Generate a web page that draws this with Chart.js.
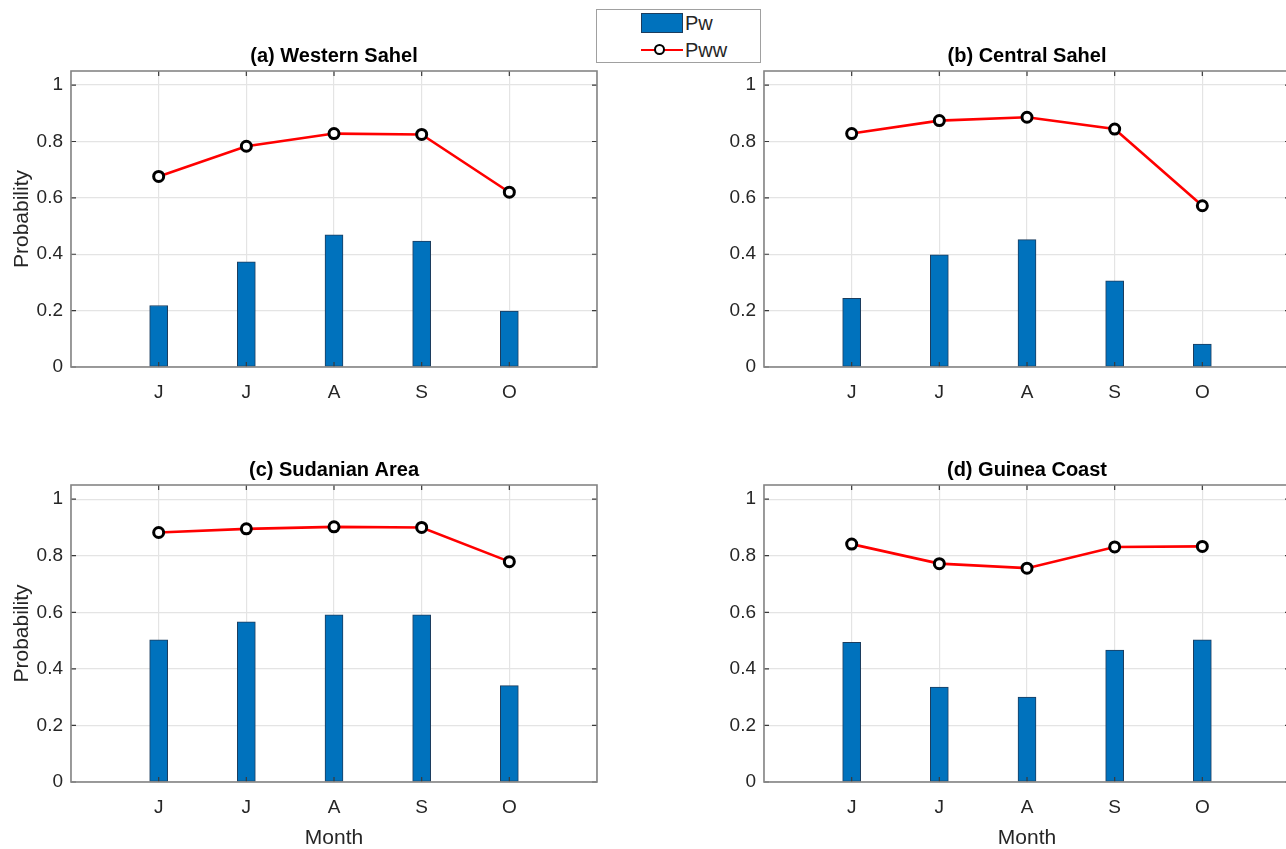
<!DOCTYPE html>
<html>
<head>
<meta charset="utf-8">
<title>Wet-day probabilities over West Africa</title>
<script src="https://cdn.jsdelivr.net/npm/chart.js@4.4.1/dist/chart.umd.min.js"></script>
<style>
  html, body { margin: 0; padding: 0; background: #ffffff; }
  body { width: 1286px; height: 849px; overflow: hidden; position: relative; font-family: "Liberation Sans", Arial, sans-serif; }
  canvas.panel { position: absolute; }
  #legend {
    position: absolute; left: 596px; top: 9px; width: 165px; height: 54px;
    border: 1px solid #a0a0a0; background: #ffffff; box-sizing: border-box;
  }
  #legend .row { position: absolute; left: 44px; height: 22px; display: flex; align-items: center; }
  #legend .swatch-bar { width: 42px; height: 20px; background: #0072BD; border: 1px solid #1c3d5e; box-sizing: border-box; }
  #legend .swatch-line { position: relative; width: 42px; height: 20px; }
  #legend .swatch-line .ln { position: absolute; left: 0; right: 0; top: 9px; height: 2.4px; background: #ff0000; }
  #legend .swatch-line .mk { position: absolute; left: 13px; top: 3.5px; width: 7px; height: 7px; border: 2.8px solid #000; border-radius: 50%; background: #fff; }
  #legend .lbl { margin-left: 2px; font-size: 20px; color: #262626; line-height: 22px; }
</style>
</head>
<body>
<canvas id="panelA" class="panel"></canvas>
<canvas id="panelB" class="panel"></canvas>
<canvas id="panelC" class="panel"></canvas>
<canvas id="panelD" class="panel"></canvas>
<div id="legend">
  <div class="row" style="top:2px"><div class="swatch-bar"></div><span class="lbl">Pw</span></div>
  <div class="row" style="top:29px"><div class="swatch-line"><div class="ln"></div><div class="mk"></div></div><span class="lbl">Pww</span></div>
</div>
<script>
// Rainy-season months (June to October)
const months = ['J', 'J', 'A', 'S', 'O'];
const yTickValues = [0, 0.2, 0.4, 0.6, 0.8, 1];

// Pw: probability of a wet day; Pww: probability of a wet day following a wet day
const pwWesternSahel   = [0.218, 0.373, 0.469, 0.447, 0.198];
const pwwWesternSahel  = [0.676, 0.783, 0.828, 0.825, 0.620];
const pwCentralSahel   = [0.244, 0.398, 0.452, 0.306, 0.081];
const pwwCentralSahel  = [0.828, 0.874, 0.886, 0.844, 0.572];
const pwSudanianArea   = [0.503, 0.566, 0.591, 0.591, 0.341];
const pwwSudanianArea  = [0.882, 0.895, 0.902, 0.900, 0.779];
const pwGuineaCoast    = [0.494, 0.336, 0.300, 0.466, 0.503];
const pwwGuineaCoast   = [0.841, 0.772, 0.756, 0.831, 0.833];

const regionTitles = ['(a) Western Sahel', '(b) Central Sahel', '(c) Sudanian Area', '(d) Guinea Coast'];

const FONT = '"Liberation Sans", Arial, sans-serif';
const TICK_COLOR = '#262626';

// Frame around the plotting area with short inward tick marks
const axesBox = {
  id: 'axesBox',
  afterDatasetsDraw(chart) {
    const { ctx, chartArea: a, scales } = chart;
    ctx.save();
    ctx.strokeStyle = '#3a3a3a';
    ctx.lineWidth = 1.2;
    const len = 5;
    ctx.beginPath();
    yTickValues.forEach(v => {
      const y = scales.y.getPixelForValue(v);
      ctx.moveTo(a.left, y); ctx.lineTo(a.left + len, y);
      ctx.moveTo(a.right, y); ctx.lineTo(a.right - len, y);
    });
    months.forEach((m, i) => {
      const x = scales.x.getPixelForValue(i + 1);
      ctx.moveTo(x, a.top); ctx.lineTo(x, a.top + len);
      ctx.moveTo(x, a.bottom); ctx.lineTo(x, a.bottom - len);
    });
    ctx.stroke();
    ctx.strokeStyle = '#858585';
    ctx.lineWidth = 1.6;
    ctx.strokeRect(a.left, a.top, a.right - a.left, a.bottom - a.top);
    ctx.restore();
  }
};

function makePanel(canvasId, layoutBox, title, pw, pww) {
  const { plotLeft, plotTop, plotW, plotH, yAxisW, xAxisH, showYTitle, showXTitle } = layoutBox;
  const titleH = 25;
  const rightGap = 8;   // space the layout keeps free at the right edge
  const canvas = document.getElementById(canvasId);
  const w = yAxisW + plotW + rightGap;
  const h = titleH + plotH + xAxisH;
  canvas.width = w; canvas.height = h;
  canvas.style.width = w + 'px'; canvas.style.height = h + 'px';
  canvas.style.left = (plotLeft - yAxisW) + 'px';
  canvas.style.top = (plotTop - titleH) + 'px';

  new Chart(canvas, {
    type: 'bar',
    data: {
      datasets: [
        {
          type: 'line',
          label: 'Pww',
          data: pww.map((v, i) => ({ x: i + 1, y: v })),
          borderColor: '#ff0000',
          borderWidth: 2.6,
          pointRadius: 5,
          pointBorderWidth: 3,
          pointBackgroundColor: '#ffffff',
          pointBorderColor: '#000000',
          tension: 0,
          order: 0
        },
        {
          type: 'bar',
          label: 'Pw',
          data: pw.map((v, i) => ({ x: i + 1, y: v })),
          backgroundColor: '#0072BD',
          borderColor: '#1c3d5e',
          borderWidth: 1,
          borderSkipped: false,
          barThickness: 18,
          order: 1
        }
      ]
    },
    options: {
      responsive: false,
      animation: false,
      devicePixelRatio: 1,
      layout: { padding: 0 },
      plugins: {
        legend: { display: false },
        tooltip: { enabled: false },
        title: {
          display: true,
          text: title,
          fullSize: false,
          color: '#000000',
          font: { family: FONT, size: 20, weight: 'bold', lineHeight: 1 },
          padding: { top: 0, bottom: titleH - 20 }
        }
      },
      scales: {
        x: {
          type: 'linear',
          min: 0,
          max: 6,
          offset: false,
          grid: { display: true, color: '#e4e4e4', lineWidth: 1.2, drawTicks: false, offset: false },
          border: { display: false },
          ticks: {
            stepSize: 1,
            autoSkip: false,
            maxRotation: 0,
            includeBounds: false,
            padding: 14,
            color: TICK_COLOR,
            font: { family: FONT, size: 19 },
            callback: (v) => (v >= 1 && v <= months.length && Number.isInteger(v)) ? months[v - 1] : ''
          },
          title: {
            display: showXTitle,
            text: 'Month',
            color: TICK_COLOR,
            font: { family: FONT, size: 21, lineHeight: 1 },
            padding: { top: 0, bottom: 0 }
          },
          afterFit: (s) => { s.height = xAxisH; s.paddingLeft = 0; s.paddingRight = 0; }
        },
        y: {
          type: 'linear',
          min: 0,
          max: 1.05,
          grid: { display: true, color: '#e4e4e4', lineWidth: 1.2, drawTicks: false },
          border: { display: false },
          ticks: {
            stepSize: 0.2,
            includeBounds: false,
            padding: 8,
            color: TICK_COLOR,
            font: { family: FONT, size: 19 },
            callback: (v) => String(Math.round(v * 10) / 10)
          },
          title: {
            display: showYTitle,
            text: 'Probability',
            color: TICK_COLOR,
            font: { family: FONT, size: 21, lineHeight: 1 },
            padding: { top: 12, bottom: 0 }
          },
          afterFit: (s) => { s.width = yAxisW; s.paddingTop = 0; s.paddingBottom = 0; }
        }
      }
    },
    plugins: [axesBox]
  });
}

makePanel('panelA', { plotLeft: 71,  plotTop: 71,  plotW: 526, plotH: 296, yAxisW: 71, xAxisH: 40, showYTitle: true,  showXTitle: false }, regionTitles[0], pwWesternSahel, pwwWesternSahel);
makePanel('panelB', { plotLeft: 764, plotTop: 71,  plotW: 526, plotH: 296, yAxisW: 50, xAxisH: 40, showYTitle: false, showXTitle: false }, regionTitles[1], pwCentralSahel, pwwCentralSahel);
makePanel('panelC', { plotLeft: 71,  plotTop: 485, plotW: 526, plotH: 297, yAxisW: 71, xAxisH: 67, showYTitle: true,  showXTitle: true  }, regionTitles[2], pwSudanianArea, pwwSudanianArea);
makePanel('panelD', { plotLeft: 764, plotTop: 485, plotW: 526, plotH: 297, yAxisW: 50, xAxisH: 67, showYTitle: false, showXTitle: true  }, regionTitles[3], pwGuineaCoast, pwwGuineaCoast);
</script>
</body>
</html>
